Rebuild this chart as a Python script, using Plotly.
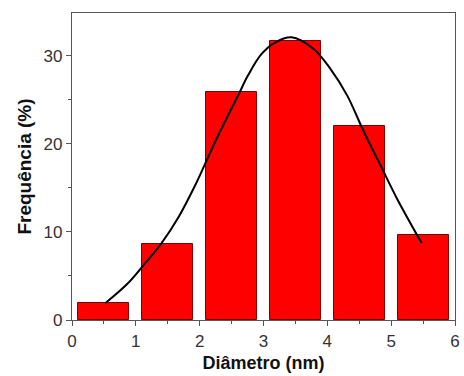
import plotly.graph_objects as go

# Histogram data (bin centers in nm, frequency in %)
diameters = [0.5, 1.5, 2.5, 3.5, 4.5, 5.5]
frequencies = [1.9, 8.65, 25.9, 31.7, 22.05, 9.6]

# Fitted curve, points
fit_x = [0.52, 0.88, 1.14, 1.40, 1.67, 1.93, 2.09, 2.24, 2.45, 2.61, 2.76, 2.97,
         3.18, 3.44, 3.78, 4.04, 4.31, 4.57, 4.83, 5.09, 5.48]
fit_y = [1.9, 4.2, 6.4, 8.7, 11.7, 15.3, 17.8, 20.2, 23.3, 25.6, 27.8, 30.2,
         31.5, 32.1, 30.8, 28.6, 25.5, 21.4, 17.6, 13.8, 8.7]

x_ticks = [0, 1, 2, 3, 4, 5, 6]
y_ticks = [0, 10, 20, 30]

fig = go.Figure()
fig.add_trace(go.Bar(
    x=diameters, y=frequencies, width=0.8,
    marker=dict(color="#ff0000", line=dict(color="#7a0000", width=1)),
    showlegend=False,
))
fig.add_trace(go.Scatter(
    x=fit_x, y=fit_y, mode="lines",
    line=dict(color="#000000", width=2, shape="spline", smoothing=1.0),
    showlegend=False,
))

axis_common = dict(
    showline=True, linecolor="#555555", linewidth=1.2, mirror=True,
    ticks="outside", ticklen=5, tickwidth=1, tickcolor="#555555",
    showgrid=False, zeroline=False,
    tickfont=dict(family="Liberation Sans, Arial", size=17, color="#333333"),
)

fig.update_xaxes(
    range=[0, 6], tickvals=x_ticks, ticktext=[str(v) for v in x_ticks],
    minor=dict(tickvals=[0.5, 1.5, 2.5, 3.5, 4.5, 5.5], ticks="outside", ticklen=3, tickcolor="#555555"),
    title=dict(text="<b>Diâmetro (nm)</b>", font=dict(family="Liberation Sans, Arial", size=18, color="#111111"), standoff=6),
    **axis_common,
)
fig.update_yaxes(
    range=[0, 34.85], tickvals=y_ticks, ticktext=[str(v) for v in y_ticks],
    minor=dict(tickvals=[5, 15, 25], ticks="outside", ticklen=3, tickcolor="#555555"),
    title=dict(text="<b>Frequência (%)</b>", font=dict(family="Liberation Sans, Arial", size=19, color="#111111"), standoff=6),
    **axis_common,
)

fig.update_layout(
    width=464, height=376,
    margin=dict(l=72, r=9, t=13, b=56, autoexpand=False),
    plot_bgcolor="white", paper_bgcolor="white",
    bargap=0,
)

fig.write_html("out.html")
